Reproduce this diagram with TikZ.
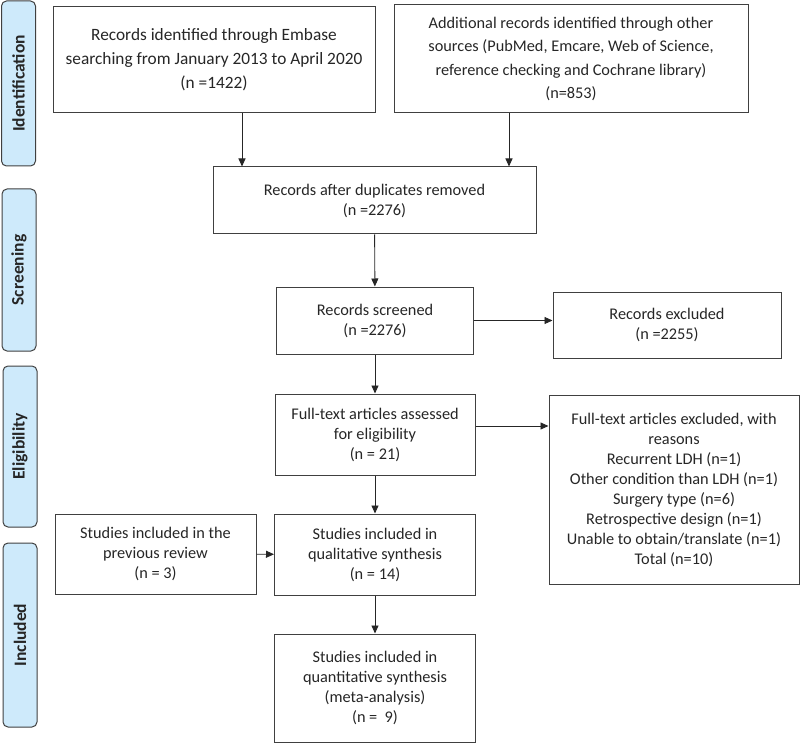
\documentclass[tikz,border=0pt]{standalone}
\usepackage{fontspec}
\setmainfont{Carlito}
\usetikzlibrary{positioning}
\usetikzlibrary{arrows.meta}

\definecolor{phaseblue}{RGB}{206,234,251}
\definecolor{boxline}{RGB}{64,64,64}

\tikzset{
  box/.style={draw=boxline, line width=1pt, align=center, inner sep=2pt, text=black!85, font=\fontsize{16.3}{20}\selectfont},
  widebox/.style={box, font=\fontsize{16.3}{23.5}\selectfont},
  phase/.style={draw=boxline, fill=phaseblue, line width=1pt, rounded corners=5pt, rotate=90, minimum height=34pt, text=black!85, font=\fontsize{17.5}{20}\selectfont\bfseries},
  flow/.style={-{Triangle[length=8pt,width=7pt]}, line width=0.9pt, draw=black!85}
}

\begin{document}
\begin{tikzpicture}[x=1pt,y=-1pt]
\useasboundingbox (0,0) rectangle (800,743);
%phases
\node[phase, minimum width=165pt] (ident) at (18.5,83.5) {Identification};
\node[phase, minimum width=162pt] (screen) at (19,270) {Screening};
\node[phase, minimum width=161pt] (elig) at (20,446.5) {Eligibility};
\node[phase, minimum width=184pt] (incl) at (20,635) {Included};

%identification
\node[widebox, font=\fontsize{17.3}{24}\selectfont, minimum width=322pt, minimum height=106pt] (embase) at (214,60) {Records identified through Embase\\searching from January 2013 to April 2020\\(n =1422)};
\node[widebox, minimum width=354pt, minimum height=108pt] (other) at (571,59) {Additional records identified through other\\sources (PubMed, Emcare, Web of Science,\\reference checking and Cochrane library)\\(n=853)};

%screening
\node[box, minimum width=323pt, minimum height=67pt] (dedup) at (374.5,200.5) {Records after duplicates removed\\(n =2276)};
\node[box, minimum width=197pt, minimum height=67pt] (screened) at (375,320.5) {Records screened\\(n =2276)};
\node[box, minimum width=228pt, minimum height=66pt] (excluded) at (667,325) {Records excluded\\(n =2255)};

%eligibility
\node[box, minimum width=200pt, minimum height=81pt] (fulltext) at (375,434.5) {Full-text articles assessed\\for eligibility\\(n = 21)};
\node[box, minimum width=250pt, minimum height=189pt] (ftexcl) at (674,489.5) {Full-text articles excluded, with\\reasons\\Recurrent LDH (n=1)\\Other condition than LDH (n=1)\\Surgery type (n=6)\\Retrospective design (n=1)\\Unable to obtain/translate (n=1)\\Total (n=10)};

%included
\node[box, minimum width=201pt, minimum height=80pt] (prevrev) at (155.5,554) {Studies included in the\\previous review\\(n = 3)};
\node[box, minimum width=201pt, minimum height=81pt] (qual) at (375,554.5) {Studies included in\\qualitative synthesis\\(n = 14)};
\node[box, minimum width=201pt, minimum height=108pt] (quant) at (375,688) {Studies included in\\quantitative synthesis\\(meta-analysis)\\(n =\ \ 9)};

%arrows
\coordinate (left drop) at (242,0);
\coordinate (right drop) at (509,0);
\draw[flow] (embase.south -| left drop) -- (dedup.north -| left drop);
\draw[flow] (other.south -| right drop) -- (dedup.north -| right drop);
\draw[flow] (dedup) -- (screened);
\draw[flow] (screened.east) -- (screened.east -| excluded.west);
\draw[flow] (screened) -- (fulltext);
\draw[flow] ([yshift=8.5pt]fulltext.east) -- ([yshift=8.5pt]fulltext.east -| ftexcl.west);
\draw[flow] (fulltext) -- (qual);
\draw[flow] (prevrev) -- (qual);
\draw[flow] (qual) -- (quant);

\end{tikzpicture}
\end{document}
